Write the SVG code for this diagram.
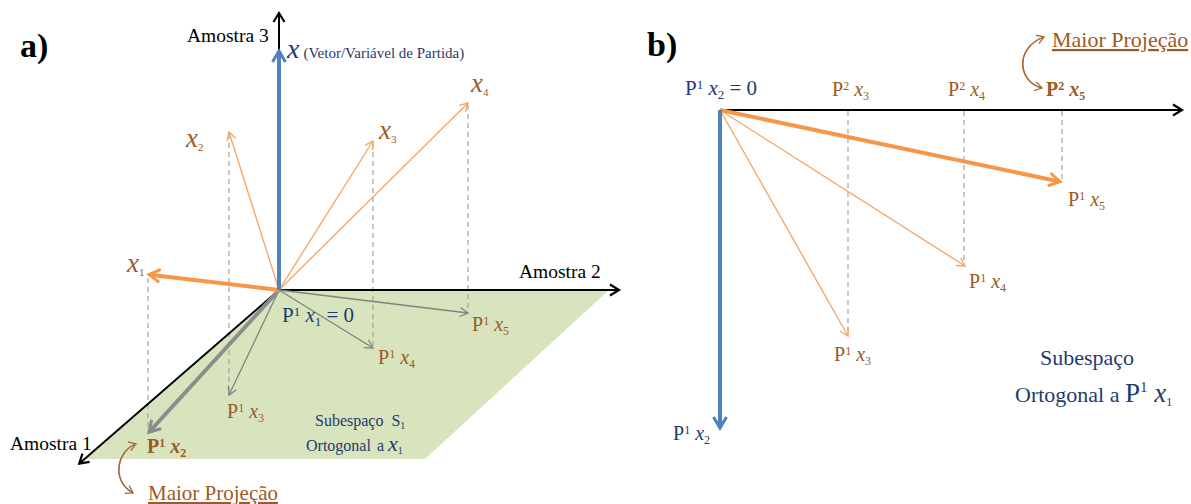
<svg xmlns="http://www.w3.org/2000/svg" width="1191" height="504" viewBox="0 0 1191 504" font-family="'Liberation Serif','Times New Roman',serif">
<style>
text{font-family:"Liberation Serif","Times New Roman",serif;}
.brown{fill:#9C5A24;}
.navy{fill:#1F3B6B;}
.blk{fill:#000;}
.it{font-style:italic;}
.ax{stroke:#000;stroke-width:2;fill:none;}
.dash{stroke:#A3A3A3;stroke-width:1.2;stroke-dasharray:5,4;fill:none;}
.othin{stroke:#F2A96E;stroke-width:1.4;fill:none;}
.othick{stroke:#F79646;stroke-width:4;fill:none;}
.gthin{stroke:#828282;stroke-width:1.3;fill:none;}
.gthick{stroke:#8C8C8C;stroke-width:4;fill:none;}
.bthick{stroke:#4F81BD;stroke-width:4;fill:none;}
.curve{stroke:#A8693A;stroke-width:1.3;fill:none;}
</style>
<defs>
<marker id="mBlk" markerUnits="userSpaceOnUse" viewBox="-12 -8 16 16" markerWidth="16" markerHeight="16" refX="0" refY="0" orient="auto"><path d="M-8,-5.5 L1,0 L-8,5.5" stroke="#000" stroke-width="2.2" fill="none"/></marker>
<marker id="mOT" markerUnits="userSpaceOnUse" viewBox="-12 -8 16 16" markerWidth="16" markerHeight="16" refX="0" refY="0" orient="auto"><path d="M-8,-4.5 L0,0 L-8,4.5" stroke="#F2A96E" stroke-width="1.4" fill="none"/></marker>
<marker id="mGT" markerUnits="userSpaceOnUse" viewBox="-12 -8 16 16" markerWidth="16" markerHeight="16" refX="0" refY="0" orient="auto"><path d="M-8,-4.5 L0,0 L-8,4.5" stroke="#828282" stroke-width="1.3" fill="none"/></marker>
<marker id="mOK" markerUnits="userSpaceOnUse" viewBox="-14 -10 20 20" markerWidth="20" markerHeight="20" refX="0" refY="0" orient="auto"><path d="M-8,-6.5 L3,0 L-8,6.5" stroke="#F79646" stroke-width="3" fill="none"/></marker>
<marker id="mGK" markerUnits="userSpaceOnUse" viewBox="-14 -10 20 20" markerWidth="20" markerHeight="20" refX="0" refY="0" orient="auto"><path d="M-8,-6.5 L3,0 L-8,6.5" stroke="#8C8C8C" stroke-width="3" fill="none"/></marker>
<marker id="mBK" markerUnits="userSpaceOnUse" viewBox="-14 -10 20 20" markerWidth="20" markerHeight="20" refX="0" refY="0" orient="auto"><path d="M-8,-6.5 L3,0 L-8,6.5" stroke="#4F81BD" stroke-width="3" fill="none"/></marker>
<marker id="mCv" markerUnits="userSpaceOnUse" viewBox="-12 -8 16 16" markerWidth="16" markerHeight="16" refX="0" refY="0" orient="auto"><path d="M-7,-4.5 L0,0 L-7,4.5" stroke="#A8693A" stroke-width="1.3" fill="none"/></marker>
</defs>

<!-- Panel a -->
<g id="plane-a"><polygon points="279,290 609,290 425,459 86,459" fill="#D8E4BE"/></g>

<g id="connectors">
  <!-- panel a dashed projections -->
  <line class="dash" x1="148" y1="278" x2="148" y2="432"/>
  <line class="dash" x1="229" y1="134" x2="229" y2="394"/>
  <line class="dash" x1="373" y1="143" x2="373" y2="347"/>
  <line class="dash" x1="468" y1="105" x2="468" y2="312"/>
  <!-- axes a -->
  <line class="ax" x1="279" y1="290" x2="279" y2="14" marker-end="url(#mBlk)"/>
  <line class="ax" x1="279" y1="290" x2="618" y2="290" marker-end="url(#mBlk)"/>
  <line class="ax" x1="279" y1="290" x2="80" y2="463" marker-end="url(#mBlk)"/>
  <!-- projections in plane -->
  <line class="gthin" x1="279" y1="290" x2="229" y2="395" marker-end="url(#mGT)"/>
  <line class="gthin" x1="279" y1="290" x2="373" y2="348" marker-end="url(#mGT)"/>
  <line class="gthin" x1="279" y1="290" x2="468" y2="313" marker-end="url(#mGT)"/>
  <line class="gthick" x1="279" y1="290" x2="151" y2="430" marker-end="url(#mGK)"/>
  <!-- vectors a -->
  <line class="othin" x1="279" y1="290" x2="229" y2="132" marker-end="url(#mOT)"/>
  <line class="othin" x1="279" y1="290" x2="373" y2="141" marker-end="url(#mOT)"/>
  <line class="othin" x1="279" y1="290" x2="468" y2="103" marker-end="url(#mOT)"/>
  <line class="othick" x1="279" y1="290" x2="152" y2="275" marker-end="url(#mOK)"/>
  <line class="bthick" x1="279" y1="290" x2="279" y2="54" marker-end="url(#mBK)"/>
  <!-- curve a -->
  <path class="curve" d="M136,444 C118,450 110,480 133,493" marker-end="url(#mCv)"/>
  <path class="curve" d="M133,493 C110,480 118,450 136,444" marker-end="url(#mCv)"/>

  <!-- panel b -->
  <line class="dash" x1="848" y1="111" x2="848" y2="334"/>
  <line class="dash" x1="964" y1="111" x2="964" y2="264"/>
  <line class="dash" x1="1062" y1="111" x2="1062" y2="180"/>
  <line class="ax" x1="720" y1="110" x2="1181" y2="110" marker-end="url(#mBlk)"/>
  <line class="othin" x1="720" y1="110" x2="848" y2="336" marker-end="url(#mOT)"/>
  <line class="othin" x1="720" y1="110" x2="965" y2="266" marker-end="url(#mOT)"/>
  <line class="othick" x1="720" y1="110" x2="1057" y2="181" marker-end="url(#mOK)"/>
  <line class="bthick" x1="720" y1="110" x2="720" y2="425" marker-end="url(#mBK)"/>
  <path class="curve" d="M1042,88 C1018,82 1014,48 1044,37" marker-end="url(#mCv)"/>
  <path class="curve" d="M1044,37 C1014,48 1018,82 1042,88" marker-end="url(#mCv)"/>
</g>

<g id="labels-a">
  <text x="20" y="57" font-size="34" font-weight="bold" class="blk">a)</text>
  <text x="187" y="42" font-size="19.5" class="blk">Amostra 3</text>
  <text x="519" y="278" font-size="19.5" class="blk">Amostra 2</text>
  <text x="10" y="450" font-size="19.5" class="blk">Amostra 1</text>
  <text x="287" y="58" class="navy"><tspan class="it" font-size="28">x</tspan><tspan font-size="15" dx="4">(Vetor/Variável de Partida)</tspan></text>
  <text x="127" y="272" class="brown"><tspan class="it" font-size="27">x</tspan><tspan font-size="11" dy="4">1</tspan></text>
  <text x="186" y="147" class="brown"><tspan class="it" font-size="27">x</tspan><tspan font-size="11" dy="4">2</tspan></text>
  <text x="379" y="139" class="brown"><tspan class="it" font-size="27">x</tspan><tspan font-size="11" dy="4">3</tspan></text>
  <text x="471" y="92" class="brown"><tspan class="it" font-size="27">x</tspan><tspan font-size="11" dy="4">4</tspan></text>
  <text x="282" y="322" font-size="21" class="navy">P<tspan font-size="13" dy="-6">1</tspan><tspan class="it" dy="6"> x</tspan><tspan font-size="13" dy="4">1</tspan><tspan dy="-4"> = 0</tspan></text>
  <text x="378" y="364" font-size="20" class="brown">P<tspan font-size="12" dy="-6">1</tspan><tspan class="it" dy="6"> x</tspan><tspan font-size="12" dy="4">4</tspan></text>
  <text x="472" y="331" font-size="20" class="brown">P<tspan font-size="12" dy="-6">1</tspan><tspan class="it" dy="6"> x</tspan><tspan font-size="12" dy="4">5</tspan></text>
  <text x="227" y="418" font-size="20" class="brown">P<tspan font-size="12" dy="-6">1</tspan><tspan class="it" dy="6"> x</tspan><tspan font-size="12" dy="4">3</tspan></text>
  <text x="147" y="453" font-size="20" font-weight="bold" class="brown">P<tspan font-size="12" dy="-6">1</tspan><tspan class="it" dy="6"> x</tspan><tspan font-size="12" dy="4">2</tspan></text>
  <text x="315" y="426" font-size="16" class="navy">Subespaço<tspan dx="8">S</tspan><tspan font-size="10" dy="3">1</tspan></text>
  <text x="306" y="451" font-size="16" class="navy">Ortogonal<tspan dx="6">a</tspan><tspan class="it" font-size="22" dx="4">x</tspan><tspan font-size="10" dy="3">1</tspan></text>
  <text x="148" y="500" font-size="21" class="brown" text-decoration="underline">Maior Projeção</text>
</g>

<g id="labels-b">
  <text x="647" y="56" font-size="34" font-weight="bold" class="blk">b)</text>
  <text x="1052" y="47" font-size="22" class="brown" text-decoration="underline">Maior Projeção</text>
  <text x="685" y="95" font-size="21" class="navy">P<tspan font-size="13" dy="-6">1</tspan><tspan class="it" dy="6"> x</tspan><tspan font-size="13" dy="4">2</tspan><tspan dy="-4"> = 0</tspan></text>
  <text x="832" y="96" font-size="20" class="brown">P<tspan font-size="12" dy="-6">2</tspan><tspan class="it" dy="6"> x</tspan><tspan font-size="12" dy="4">3</tspan></text>
  <text x="948" y="96" font-size="20" class="brown">P<tspan font-size="12" dy="-6">2</tspan><tspan class="it" dy="6"> x</tspan><tspan font-size="12" dy="4">4</tspan></text>
  <text x="1046" y="96" font-size="20" font-weight="bold" class="brown">P<tspan font-size="12" dy="-6">2</tspan><tspan class="it" dy="6"> x</tspan><tspan font-size="12" dy="4">5</tspan></text>
  <text x="1068" y="206" font-size="20" class="brown">P<tspan font-size="12" dy="-6">1</tspan><tspan class="it" dy="6"> x</tspan><tspan font-size="12" dy="4">5</tspan></text>
  <text x="969" y="288" font-size="20" class="brown">P<tspan font-size="12" dy="-6">1</tspan><tspan class="it" dy="6"> x</tspan><tspan font-size="12" dy="4">4</tspan></text>
  <text x="834" y="361" font-size="20" class="brown">P<tspan font-size="12" dy="-6">1</tspan><tspan class="it" dy="6"> x</tspan><tspan font-size="12" dy="4">3</tspan></text>
  <text x="673" y="440" font-size="20" class="navy">P<tspan font-size="12" dy="-6">1</tspan><tspan class="it" dy="6"> x</tspan><tspan font-size="12" dy="4">2</tspan></text>
  <text x="1040" y="365" font-size="22" class="navy">Subespaço</text>
  <text x="1015" y="402" font-size="22" class="navy">Ortogonal a <tspan font-size="27">P</tspan><tspan font-size="15" dy="-10">1</tspan><tspan class="it" font-size="27" dy="10"> x</tspan><tspan font-size="12" dy="4">1</tspan></text>
</g>
</svg>
